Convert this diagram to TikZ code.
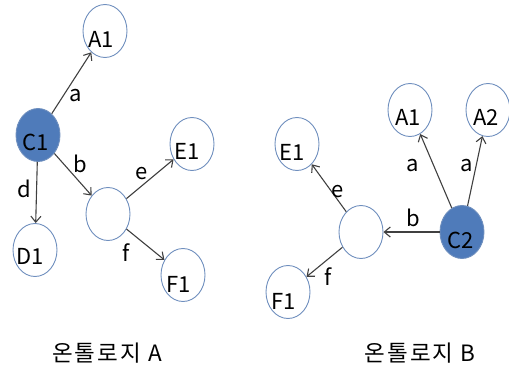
\documentclass[tikz,border=0pt]{standalone}
\usepackage{fontspec}
\setmainfont{Noto Sans CJK KR}
\usetikzlibrary{shapes.geometric,arrows.meta}
\definecolor{ringblue}{HTML}{6F8FBE}
\definecolor{fillblue}{HTML}{4F7BBA}
\definecolor{edgegray}{HTML}{404040}
\tikzset{
  lab/.style={font=\fontsize{22}{24}\selectfont, inner sep=0pt},
  concept/.style={ellipse, draw=ringblue, line width=0.9pt, fill=white,
    minimum width=44pt, minimum height=53pt, inner sep=0pt},
  central/.style={concept, fill=fillblue},
  txt/.style n args={3}{label={[lab, xshift=#2pt, yshift=-#3pt]center:#1}},
  rel/.style={draw=edgegray, line width=1.1pt, -{Straight Barb[length=6pt,width=10pt,line width=1.1pt]}},
  caption/.style={font=\fontsize{22.5}{24}\selectfont\addfontfeature{LetterSpace=9}, inner sep=0pt}
}
\begin{document}
\begin{tikzpicture}[x=1pt,y=-1pt]
\useasboundingbox (0,0) rectangle (509,367);
% Ontology A
\node[concept, txt={A1}{-4}{8}] (aA1) at (105,31) {};
\node[central, txt={C1}{-2.5}{7.5}] (aC1) at (38,135) {};
\node[concept, txt={E1}{-5}{7}] (aE1) at (192,144) {};
\node[concept] (aX) at (108,214) {};
\node[concept, txt={D1}{-5}{6}] (aD1) at (35,250) {};
\node[concept, txt={F1}{-4}{9}] (aF1) at (183,275) {};
\draw[rel] (aC1) -- (aA1);
\draw[rel] (aC1) -- (aX);
\draw[rel] (aC1) -- (aD1);
\draw[rel] (aX) -- (aE1);
\draw[rel] (aX) -- (aF1);
\node[lab] (la) at (76,96) {a};
\node[lab] (lb) at (80,164) {b};
\node[lab] (ld) at (24,189) {d};
\node[lab] (le) at (142,174) {e};
\node[lab] (lf) at (126,253) {f};
\node[caption] (capA) at (107,353) {온톨로지 A};
% Ontology B
\node[concept, txt={A1}{-2}{7}] (bA1) at (410,110) {};
\node[concept, txt={A2}{-2}{7}] (bA2) at (488,110) {};
\node[concept, txt={E1}{-5}{8}] (bE1) at (297,144) {};
\node[concept] (bX) at (361,232) {};
\node[central, txt={C2}{-1}{8}] (bC2) at (462,232) {};
\node[concept, txt={F1}{-4.5}{9}] (bF1) at (288,292) {};
\draw[rel] (bC2) -- (bA1);
\draw[rel] (bC2) -- (bA2);
\draw[rel] (bC2) -- (bX);
\draw[rel] (bX) -- (bE1);
\draw[rel] (bX) -- (bF1);
\node[lab] (ma1) at (413,166) {a};
\node[lab] (ma2) at (467,166) {a};
\node[lab] (me) at (338,192) {e};
\node[lab] (mb) at (413,218) {b};
\node[lab] (mf) at (328,277) {f};
\node[caption] (capB) at (420,353) {온톨로지 B};
\end{tikzpicture}
\end{document}
